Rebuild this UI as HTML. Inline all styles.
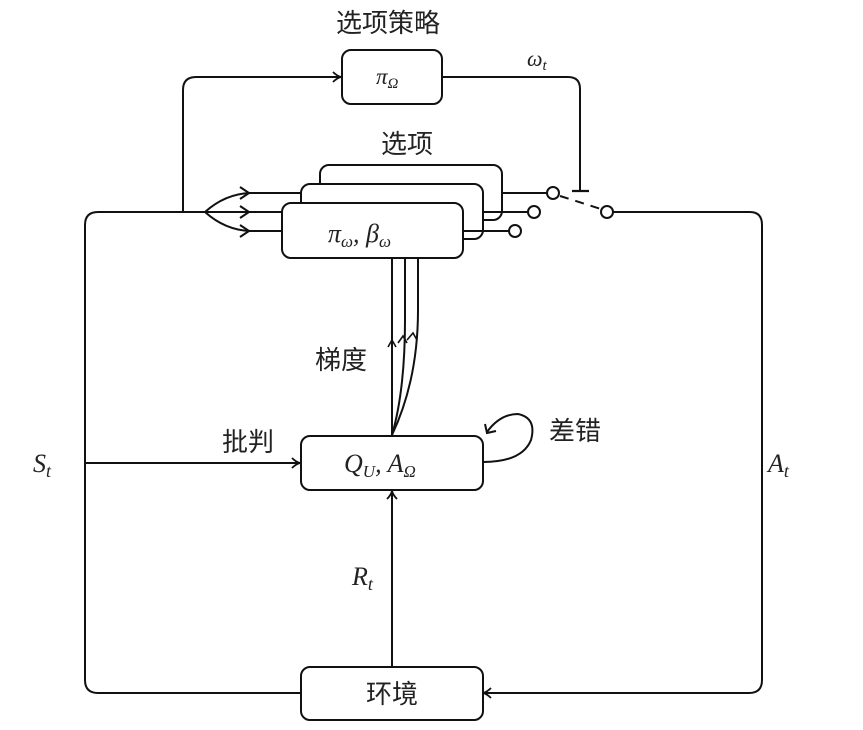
<!DOCTYPE html>
<html><head><meta charset="utf-8"><style>
html,body{margin:0;padding:0;background:#fff;}
svg{display:block;}
.c{font-family:"Liberation Sans","Noto Sans CJK SC",sans-serif;font-size:26px;fill:#222;}
.m{font-family:"Liberation Serif",serif;font-style:italic;fill:#222;}
</style></head><body>
<svg width="863" height="730" viewBox="0 0 863 730" xmlns="http://www.w3.org/2000/svg">
<defs>
<marker id="a" markerWidth="12" markerHeight="12" refX="9" refY="6" orient="auto" markerUnits="userSpaceOnUse">
<path d="M2,1 Q6,5 10,6 Q6,7 2,11" fill="none" stroke="#111" stroke-width="1.8"/>
</marker>
</defs>
<g fill="none" stroke="#111" stroke-width="2">
<path d="M98,212 H205"/>
<path d="M98,212 Q85,212 85,225 V680 Q85,693 98,693 H301"/>
<path d="M608,212 H750 Q762,212 762,225 V680 Q762,693 749,693 H484" marker-end="url(#a)"/>
<path d="M183,212 V90 Q183,77 196,77 H340" marker-end="url(#a)"/>
<path d="M442,77 H568 Q580,77 580,89 V191"/>
<path d="M572,191 H589" stroke-width="2.2"/>
<path d="M205,212 Q225,194 250,193 H320"/>
<path d="M205,212 H301"/>
<path d="M205,212 Q225,230 250,231 H282"/>
<path d="M240,187 L249,193 L240,199"/>
<path d="M240,206 L249,212 L240,218"/>
<path d="M240,225 L249,231 L240,237"/>
<rect x="320" y="165" width="182" height="55" rx="9" fill="#fff"/>
<rect x="301" y="184" width="182" height="55" rx="9" fill="#fff"/>
<rect x="282" y="203" width="181" height="55" rx="9" fill="#fff"/>
<path d="M502,193 H547"/><circle cx="553" cy="193" r="6" fill="#fff"/>
<path d="M483,212 H528"/><circle cx="534" cy="212" r="6" fill="#fff"/>
<path d="M463,231 H509"/><circle cx="515" cy="231" r="6" fill="#fff"/>
<circle cx="607" cy="212" r="6" fill="#fff"/>
<path d="M560,196 L601,209" stroke-dasharray="9,7"/>
<path d="M392,258 V435"/>
<path d="M405,258 V320 Q405,390 392,435"/>
<path d="M418,258 V310 Q418,380 392,435"/>
<path d="M388,347 L392,340 L396,347" stroke-width="1.6"/>
<path d="M398,343 L403,336 L407,343" stroke-width="1.6"/>
<path d="M407,340 L413,333 L417,340" stroke-width="1.6"/>
<path d="M85,463 H299" marker-end="url(#a)"/>
<rect x="301" y="436" width="182" height="54" rx="9" fill="#fff"/>
<path d="M483,462 Q522,462 531,440 Q537,418 518,414 Q500,414 487,432" />
<path d="M485,424 L487,433 L496,431"/>
<path d="M392,667 V492" marker-end="url(#a)"/>
<rect x="301" y="667" width="182" height="53" rx="9" fill="#fff"/>
<rect x="342" y="50" width="100" height="54" rx="9" fill="#fff"/>
</g>
<text class="c" x="388" y="32" text-anchor="middle">选项策略</text>
<text class="c" x="407" y="153" text-anchor="middle">选项</text>
<text class="c" x="341" y="369" text-anchor="middle">梯度</text>
<text class="c" x="248" y="451" text-anchor="middle">批判</text>
<text class="c" x="575" y="440" text-anchor="middle">差错</text>
<text class="c" x="392" y="703" text-anchor="middle">环境</text>
<text class="m" x="376" y="84" font-size="23">π<tspan font-size="15" dy="4">Ω</tspan></text>
<text class="m" x="527" y="66" font-size="22">ω<tspan font-size="15" dy="4">t</tspan></text>
<text class="m" x="328" y="242" font-size="26">π<tspan font-size="17" dy="5">ω</tspan><tspan dy="-5">,  β</tspan><tspan font-size="17" dy="5">ω</tspan></text>
<text class="m" x="344" y="472" font-size="26">Q<tspan font-size="17" dy="5">U</tspan><tspan dy="-5">, A</tspan><tspan font-size="17" dy="5">Ω</tspan></text>
<text class="m" x="33" y="472" font-size="26">S<tspan font-size="18" dy="5">t</tspan></text>
<text class="m" x="768" y="472" font-size="26">A<tspan font-size="18" dy="5">t</tspan></text>
<text class="m" x="352" y="585" font-size="26">R<tspan font-size="18" dy="5">t</tspan></text>
</svg>
</body></html>
